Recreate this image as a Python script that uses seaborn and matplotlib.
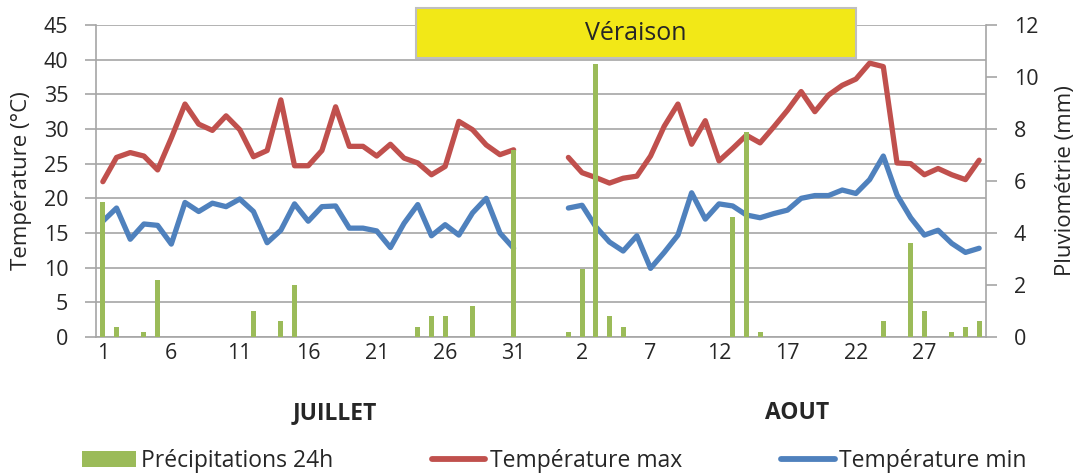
import numpy as np
import pandas as pd
import matplotlib
matplotlib.use("Agg")
import matplotlib.pyplot as plt
from matplotlib.patches import Rectangle, Patch
from matplotlib.lines import Line2D
import seaborn as sns

# ---------------- data ----------------
july_days = list(range(1, 32))
aug_days = list(range(1, 32))
n_gap = 3  # empty categories between the two months

tmax_july = [22.4, 25.9, 26.6, 26.1, 24.1, 28.7, 33.6, 30.7, 29.8, 31.9,
             29.9, 26.0, 26.9, 34.2, 24.7, 24.7, 26.9, 33.2, 27.5, 27.5,
             26.1, 27.8, 25.8, 25.1, 23.4, 24.6, 31.1, 29.9, 27.7, 26.3, 27.0]
tmin_july = [16.7, 18.6, 14.1, 16.3, 16.1, 13.4, 19.4, 18.1, 19.3, 18.8,
             19.9, 18.1, 13.6, 15.4, 19.2, 16.7, 18.8, 18.9, 15.7, 15.7,
             15.3, 12.9, 16.4, 19.1, 14.6, 16.2, 14.7, 17.9, 20.0, 15.0, 12.8]
rain_july = [5.2, 0.4, 0, 0.2, 2.2, 0, 0, 0, 0, 0,
             0, 1.0, 0, 0.6, 2.0, 0, 0, 0, 0, 0,
             0, 0, 0, 0.4, 0.8, 0.8, 0, 1.2, 0, 0, 7.2]

tmax_aug = [25.9, 23.7, 23.0, 22.2, 22.9, 23.2, 26.1, 30.4, 33.6, 27.8,
            31.2, 25.4, 27.2, 29.1, 28.0, 30.3, 32.7, 35.4, 32.5, 34.9,
            36.3, 37.2, 39.5, 39.0, 25.1, 25.0, 23.4, 24.3, 23.4, 22.7, 25.5]
tmin_aug = [18.6, 19.0, 15.9, 13.7, 12.4, 14.6, 9.9, 12.2, 14.7, 20.8,
            17.0, 19.2, 18.9, 17.6, 17.2, 17.8, 18.3, 20.0, 20.4, 20.4,
            21.2, 20.7, 22.7, 26.1, 20.5, 17.2, 14.7, 15.4, 13.5, 12.2, 12.8]
rain_aug = [0.2, 2.6, 10.5, 0.8, 0.4, 0, 0, 0, 0, 0,
            0, 0, 4.6, 7.9, 0.2, 0, 0, 0, 0, 0,
            0, 0, 0, 0.6, 0, 3.6, 1.0, 0, 0.2, 0.4, 0.6]

month_labels = ["JUILLET", "AOUT"]
series_names = ["Précipitations 24h", "Température max", "Température min"]
annotation_text = "Véraison"
y_left_label = "Température (°C)"
y_right_label = "Pluviométrie (mm)"

# ---------------- build tables ----------------
day_labels = [str(d) for d in july_days] + [""] * n_gap + [str(d) for d in aug_days]
idx_july = np.arange(len(july_days))
idx_aug = np.arange(len(aug_days)) + len(july_days) + n_gap
n_cat = len(day_labels)

lines = pd.concat([
    pd.DataFrame({"x": idx_july, "val": tmax_july, "serie": series_names[1], "mois": "J"}),
    pd.DataFrame({"x": idx_aug, "val": tmax_aug, "serie": series_names[1], "mois": "A"}),
    pd.DataFrame({"x": idx_july, "val": tmin_july, "serie": series_names[2], "mois": "J"}),
    pd.DataFrame({"x": idx_aug, "val": tmin_aug, "serie": series_names[2], "mois": "A"}),
], ignore_index=True)

rain = pd.DataFrame({"x": np.concatenate([idx_july, idx_aug]),
                     "val": rain_july + rain_aug})

# ---------------- style ----------------
sns.set_theme(style="white")
plt.rcParams["font.family"] = ["Open Sans", "DejaVu Sans"]
green, red, blue = "#9BBB59", "#C0504D", "#4F81BD"
grid_col = "#A6A6A6"
txt_col = "#262626"
fs_tick = 15.5
fs_lab = 16

fig = plt.figure(figsize=(10.79, 4.75), dpi=100)
ax = fig.add_axes([96 / 1079, (475 - 337) / 475, (986 - 96) / 1079, 312 / 475])

sns.lineplot(data=lines, x="x", y="val", hue="serie", units="mois", estimator=None,
             palette={series_names[1]: red, series_names[2]: blue},
             linewidth=3.8, ax=ax, legend=False, sort=True)

ax.set_ylim(0, 45)
ax.set_yticks(np.arange(0, 46, 5))
ax.set_xlim(-0.5, n_cat - 0.5)
ax.yaxis.grid(True, color=grid_col, linewidth=1.2)
ax.set_axisbelow(True)
ax.set_xlabel("")
ax.set_ylabel(y_left_label, fontsize=fs_lab, color=txt_col, labelpad=8)

# x ticks: marks between categories every 5, labels every 5 categories
label_pos = np.arange(0, n_cat, 5)
ax.set_xticks(label_pos)
ax.set_xticklabels([day_labels[i] for i in label_pos])
ax.tick_params(axis="x", which="major", length=0, pad=4, labelsize=fs_tick, colors=txt_col)
ax.set_xticks(np.arange(-0.5, n_cat, 5), minor=True)
ax.tick_params(axis="x", which="minor", length=7, width=1.2, color=grid_col, direction="out")
ax.tick_params(axis="y", length=8, width=1.2, color=grid_col, direction="out",
               labelsize=fs_tick, labelcolor=txt_col, left=True, pad=12)

for s in ["top", "right"]:
    ax.spines[s].set_visible(False)
for s in ["left", "bottom"]:
    ax.spines[s].set_color(grid_col)
    ax.spines[s].set_linewidth(1.2)

# secondary axis: rain bars drawn on top
ax2 = ax.twinx()
sns.barplot(data=rain, x="x", y="val", native_scale=True, color=green,
            saturation=1, width=0.36, ax=ax2, linewidth=0)
ax2.set_xlim(-0.5, n_cat - 0.5)
ax2.set_ylim(0, 12)
ax2.set_yticks(np.arange(0, 13, 2))
ax2.set_ylabel(y_right_label, fontsize=fs_lab, color=txt_col, labelpad=12)
ax2.set_xlabel("")
ax2.tick_params(axis="y", length=8, width=1.2, color=grid_col, direction="out",
                labelsize=fs_tick, labelcolor=txt_col, right=True, pad=12)
for s in ["top", "left", "bottom"]:
    ax2.spines[s].set_visible(False)
ax2.spines["right"].set_color(grid_col)
ax2.spines["right"].set_linewidth(1.2)
ax2.grid(False)

# month labels
ax.text(np.mean(idx_july) + 1.95, -0.245, month_labels[0], transform=ax.get_xaxis_transform(),
        ha="center", va="center", fontsize=16.5, fontweight="bold", color=txt_col)
ax.text(np.mean(idx_aug) + 1.7, -0.245, month_labels[1], transform=ax.get_xaxis_transform(),
        ha="center", va="center", fontsize=16.5, fontweight="bold", color=txt_col)

# Véraison box
rect = Rectangle((416 / 1079, (475 - 58) / 475), 440 / 1079, 50 / 475,
                 transform=fig.transFigure, facecolor="#F2E817", edgecolor="#BFBFBF",
                 linewidth=1.5, zorder=10)
fig.add_artist(rect)
fig.text((416 + 220) / 1079, (475 - 33) / 475, annotation_text, ha="center", va="center",
         fontsize=18, color=txt_col, zorder=11)

# legend
handles = [Patch(facecolor=green, edgecolor="none"),
           Line2D([0], [0], color=red, linewidth=4.2),
           Line2D([0], [0], color=blue, linewidth=4.2)]
fig.legend(handles, series_names, loc="center", bbox_to_anchor=(0.514, 1 - 461 / 475),
           ncol=3, frameon=False, fontsize=16.5, handlelength=2.35, handletextpad=0.2,
           columnspacing=4.3, labelcolor=txt_col)

fig.savefig("out.png", dpi=100)
